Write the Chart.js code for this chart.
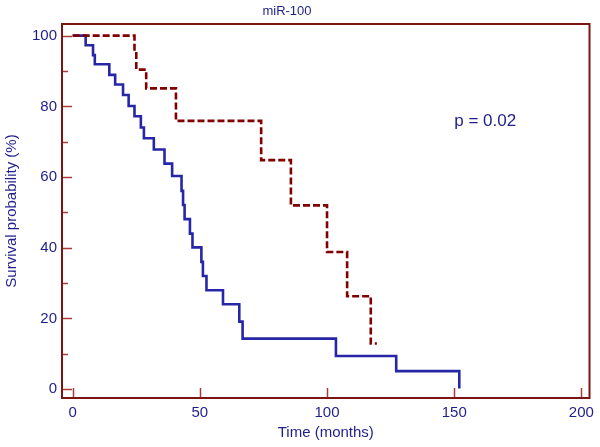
<!DOCTYPE html>
<html>
<head>
<meta charset="utf-8">
<script src="https://cdn.jsdelivr.net/npm/chart.js@4.4.1/dist/chart.umd.min.js"></script>
<style>
  html, body { margin: 0; padding: 0; background: #fff; }
  #wrap { width: 600px; height: 447px; }
</style>
</head>
<body>
<div id="wrap"><canvas id="km"></canvas></div>
<script>
// Kaplan-Meier steps: time (months) and survival (%)
const lowTimes = [0, 5.1, 8.0, 8.7, 14.4, 16.7, 19.8, 22.0, 24.3, 26.8, 28.0, 31.9, 36.1, 39.1, 42.8, 43.4, 44.0, 46.1, 47.1, 50.6, 51.2, 52.6, 59.1, 65.5, 66.8, 103.5, 127.2, 152.0];
const lowSurv  = [100, 97.3, 94.5, 91.9, 88.9, 86.2, 83.2, 80.1, 77.2, 74.0, 71.0, 67.8, 63.8, 60.3, 56.1, 52.1, 48.1, 44.0, 40.1, 36.0, 32.0, 28.0, 24.0, 19.1, 14.3, 9.4, 5.1, 0.2];

const highTimes = [0, 24.3, 25.0, 28.9, 40.6, 74.1, 85.8, 100.0, 107.9, 117.2, 119.6];
const highSurv  = [100, 95.4, 90.4, 85.1, 75.9, 64.8, 52.0, 38.8, 26.3, 12.9, 12.9];

const xTicks = [0, 50, 100, 150, 200];
const yTicks = [0, 20, 40, 60, 80, 100];
const yMinorTicks = [10, 30, 50, 70, 90];

const chartTitle = 'miR-100';
const pText = 'p = 0.02';

const textColor = '#1e1e8c';
const frameColor = '#7d1414';
const tickColor = '#a83c3c';

function toPoints(xs, ys) {
    return xs.map((x, i) => ({ x: x, y: ys[i] }));
}

// frame, inward ticks, title and p-value
const decorations = {
    id: 'decorations',
    beforeDatasetsDraw(chart) {
        const ctx = chart.ctx;
        const area = chart.chartArea;
        const xs = chart.scales.x;
        const ys = chart.scales.y;
        ctx.save();
        ctx.lineWidth = 1.5;
        ctx.strokeStyle = tickColor;
        ctx.beginPath();
        yTicks.forEach(v => {
            const py = Math.round(ys.getPixelForValue(v)) + 0.5;
            ctx.moveTo(area.left, py);
            ctx.lineTo(area.left + 10, py);
        });
        yMinorTicks.forEach(v => {
            const py = Math.round(ys.getPixelForValue(v)) + 0.5;
            ctx.moveTo(area.left, py);
            ctx.lineTo(area.left + 6, py);
        });
        xTicks.forEach(v => {
            const px = Math.round(xs.getPixelForValue(v)) + 0.5;
            ctx.moveTo(px, area.bottom);
            ctx.lineTo(px, area.bottom - 10);
        });
        ctx.stroke();

        ctx.lineWidth = 2;
        ctx.strokeStyle = frameColor;
        ctx.strokeRect(area.left, area.top, area.right - area.left, area.bottom - area.top);
        ctx.restore();
    },
    afterDraw(chart) {
        const ctx = chart.ctx;
        const xs = chart.scales.x;
        const ys = chart.scales.y;
        ctx.save();
        ctx.fillStyle = textColor;
        ctx.textAlign = 'center';
        ctx.textBaseline = 'middle';
        ctx.font = '13px "Liberation Sans", Arial, sans-serif';
        ctx.fillText(chartTitle, 287, 11);
        ctx.font = '17px "Liberation Sans", Arial, sans-serif';
        ctx.textAlign = 'left';
        ctx.textBaseline = 'alphabetic';
        ctx.fillText(pText, xs.getPixelForValue(150), ys.getPixelForValue(74.5));
        ctx.restore();
    }
};

const ctx = document.getElementById('km').getContext('2d');
new Chart(ctx, {
    type: 'line',
    data: {
        datasets: [
            {
                label: 'high',
                data: toPoints(highTimes, highSurv),
                borderColor: '#800000',
                borderWidth: 2.6,
                borderDash: [7, 3],
                stepped: 'before',
                pointRadius: 0,
                fill: false
            },
            {
                label: 'low',
                data: toPoints(lowTimes, lowSurv),
                borderColor: '#2626a6',
                borderWidth: 2.6,
                stepped: 'before',
                pointRadius: 0,
                fill: false
            }
        ]
    },
    options: {
        responsive: true,
        maintainAspectRatio: false,
        animation: false,
        layout: { padding: { top: 24, right: 7, left: 0, bottom: 0 } },
        plugins: {
            legend: { display: false },
            tooltip: { enabled: false },
            title: { display: false }
        },
        scales: {
            x: {
                type: 'linear',
                min: -4.2,
                max: 203.2,
                grid: { display: false, drawTicks: false },
                border: { display: false },
                afterBuildTicks: scale => { scale.ticks = xTicks.map(v => ({ value: v })); },
                afterFit: scale => { scale.height = 49; },
                ticks: {
                    color: textColor,
                    padding: 6,
                    maxRotation: 0,
                    font: { family: '"Liberation Sans", Arial, sans-serif', size: 15 }
                },
                title: {
                    display: true,
                    text: 'Time (months)',
                    color: textColor,
                    padding: { top: 0, bottom: 5 },
                    font: { family: '"Liberation Sans", Arial, sans-serif', size: 15 }
                }
            },
            y: {
                type: 'linear',
                min: -2.5,
                max: 103.3,
                grid: { display: false, drawTicks: false },
                border: { display: false },
                afterBuildTicks: scale => { scale.ticks = yTicks.map(v => ({ value: v })); },
                afterFit: scale => { scale.width = 62; },
                ticks: {
                    color: textColor,
                    padding: 5,
                    font: { family: '"Liberation Sans", Arial, sans-serif', size: 15 }
                },
                title: {
                    display: true,
                    text: 'Survival probability (%)',
                    color: textColor,
                    padding: { top: 3, bottom: 0 },
                    font: { family: '"Liberation Sans", Arial, sans-serif', size: 15 }
                }
            }
        }
    },
    plugins: [decorations]
});
</script>
</body>
</html>
